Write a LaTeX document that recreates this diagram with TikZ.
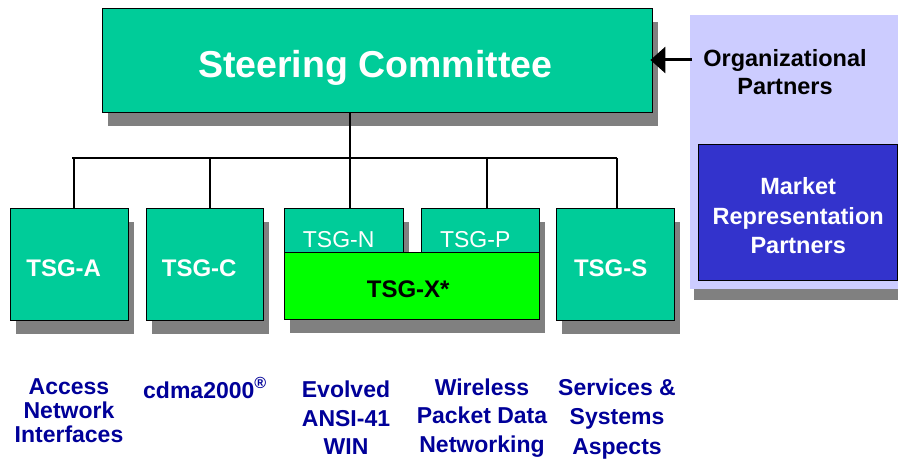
\documentclass[tikz,border=0pt]{standalone}
\usepackage{fontspec}
\setmainfont{Liberation Sans}
\usetikzlibrary{arrows.meta,shadows,calc}
\definecolor{tsgteal}{HTML}{00CC99}
\definecolor{tsgxgreen}{HTML}{00FF00}
\definecolor{shgray}{HTML}{808080}
\definecolor{lavend}{HTML}{CCCCFF}
\definecolor{mrpblue}{HTML}{3333CC}
\definecolor{labnavy}{HTML}{000099}
\newcommand\boxtext[3]{\raisebox{#2}[\height][\depth]{\hspace*{#1}#3}}
\begin{document}
\begin{tikzpicture}[x=1pt,y=-1pt,
  shad/.style={drop shadow={shadow xshift=5pt, shadow yshift=-13pt, fill=shgray, opacity=1, draw=none}},
  boxbase/.style={draw=black, line width=1.4pt, inner sep=0pt, anchor=north west},
  tsgbox/.style={boxbase, shad, fill=tsgteal, text=white},
  bigfont/.style={font=\fontsize{24}{28}\selectfont\bfseries},
  thinfont/.style={font=\fontsize{23}{28}\selectfont},
  conn/.style={line width=1.3pt, draw=black},
  bottomlab/.style={text=labnavy, align=center, inner sep=0pt}
]
\useasboundingbox (0,0) rectangle (898,462);
\clip (0,0) rectangle (898,462);
\fill[white] (0,0) rectangle (898,462);

% right panel
\node[anchor=north west, fill=lavend, inner sep=0pt, minimum width=230pt, minimum height=274pt,
      drop shadow={shadow xshift=4pt, shadow yshift=-11pt, fill=shgray, opacity=1, draw=none}]
      (orgpanel) at (690,15) {};
\node[font=\fontsize{23.5}{28}\selectfont\bfseries, align=center, inner sep=0pt] (orgtext) at (785,72) {Organizational\\Partners};
\node[boxbase, fill=mrpblue, text=white, minimum width=199pt, minimum height=136pt,
      font=\fontsize{23.5}{29}\selectfont\bfseries] (mrp) at (698,144) {\raisebox{-6pt}[\height][\depth]{\begin{tabular}{@{}c@{}}Market\\[0.5pt]Representation\\[0.5pt]Partners\end{tabular}}};

% steering committee
\node[tsgbox, minimum width=550pt, minimum height=104pt, font=\fontsize{37.5}{44}\selectfont\bfseries] (steer) at (102,8) {\boxtext{-5pt}{-7pt}{Steering Committee}};

% TSG boxes
\node[tsgbox, bigfont, minimum width=118pt, minimum height=112pt] (tsga) at (10,208) {\boxtext{-12pt}{-4pt}{TSG-A}};
\node[tsgbox, bigfont, minimum width=117pt, minimum height=112pt] (tsgc) at (146,208) {\boxtext{-12pt}{-4pt}{TSG-C}};
\node[tsgbox, thinfont, minimum width=119pt, minimum height=60pt] (tsgn) at (284,208) {\boxtext{-11pt}{-1pt}{TSG-N}};
\node[tsgbox, thinfont, minimum width=118pt, minimum height=60pt] (tsgp) at (421,208) {\boxtext{-11pt}{-1pt}{TSG-P}};
\node[boxbase, shad, fill=tsgxgreen, text=black, bigfont, minimum width=255pt, minimum height=67pt] (tsgx) at (284,252) {\boxtext{-8pt}{-3pt}{TSG-X*}};
\node[tsgbox, bigfont, minimum width=118pt, minimum height=112pt] (tsgs) at (556,208) {\boxtext{-10pt}{-4pt}{TSG-S}};

% connectors
\coordinate (busL) at (72,158);
\coordinate (busR) at (617,158);
\coordinate (dA) at (74,158);
\coordinate (dC) at (210,158);
\coordinate (dN) at (350,158);
\coordinate (dP) at (487,158);
\coordinate (dS) at (617,158);
\draw[conn] (busL) -- (busR);
\draw[conn] (dN |- steer.south) -- (dN |- tsgn.north);
\draw[conn] (dA) -- (dA |- tsga.north);
\draw[conn] (dC) -- (dC |- tsgc.north);
\draw[conn] (dP) -- (dP |- tsgp.north);
\draw[conn] (dS) -- (dS |- tsgs.north);

% arrow
\draw[line width=3pt, -{Triangle[length=15pt,width=26pt]}] ([xshift=2pt]orgpanel.west |- 0,60) -- ([xshift=-3pt]steer.east |- 0,60);

% bottom labels
\node[bottomlab, font=\fontsize{23}{24}\selectfont\bfseries] (labA) at (69,411) {Access\\Network\\Interfaces};
\node[bottomlab, font=\fontsize{23}{24}\selectfont\bfseries] (labC) at (205,388) {cdma2000\textsuperscript{®}};
\node[bottomlab, font=\fontsize{23}{28.5}\selectfont\bfseries] (labN) at (346,418) {Evolved\\ANSI-41\\WIN};
\node[bottomlab, font=\fontsize{23}{28.5}\selectfont\bfseries] (labP) at (482,418) {Wireless\\Packet Data\\Networking};
\node[bottomlab, font=\fontsize{23}{29.5}\selectfont\bfseries] (labS) at (617,419) {Services \&\\Systems\\Aspects};
\end{tikzpicture}
\end{document}
